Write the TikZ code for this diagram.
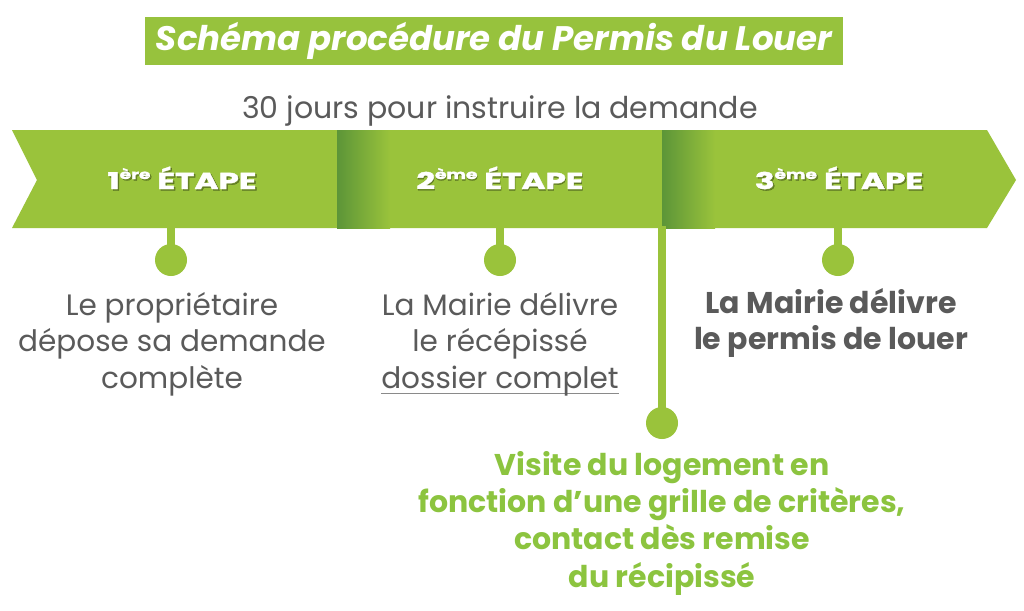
\documentclass[tikz,border=0pt]{standalone}
\usepackage{fontspec}
\setmainfont{Poppins}
\definecolor{bandgreen}{HTML}{9AC33B}
\definecolor{titlegreen}{HTML}{97C23D}
\definecolor{darkgreen}{HTML}{5C9538}
\definecolor{txtgreen}{HTML}{8CC43F}
\definecolor{txtgray}{HTML}{5A5A5A}
\definecolor{ulgray}{HTML}{8A8A8A}
\newcommand\ulline[1]{\leavevmode\setbox0=\hbox{#1}\rlap{\color{ulgray}\rule[-6pt]{\wd0}{1.2pt}}\box0}
\newcommand\stepsup[1]{\raisebox{10pt}{\fontsize{13}{13}\selectfont #1}}
\newcommand\steptext[2]{\scalebox{1.42}[1]{#1\stepsup{#2}\hspace{5pt}ÉTAPE}}
\tikzset{
  dot/.style={circle, fill=bandgreen, minimum size=32pt, inner sep=0pt},
  stem/.style={draw=bandgreen, line width=8pt},
  graytxt/.style={align=center, text=txtgray, inner sep=0pt, anchor=base,
    font=\fontsize{29.5}{36.5}\selectfont},
  boldtxt/.style={align=center, text=txtgray, inner sep=0pt, anchor=base,
    font=\fontsize{30}{36}\selectfont\bfseries},
  greentxt/.style={align=center, text=txtgreen, inner sep=0pt, anchor=base,
    font=\fontsize{30}{37.3}\selectfont\bfseries},
  steplbl/.style={text=white, inner sep=0pt, anchor=base,
    font=\fontsize{23}{28}\selectfont\bfseries\addfontfeature{FakeBold=1.6}},
  stepshadow/.style={text=black, opacity=0.3, inner sep=0pt, anchor=base,
    font=\fontsize{23}{28}\selectfont\bfseries\addfontfeature{FakeBold=1.6}}
}
\begin{document}
\begin{tikzpicture}[x=1pt,y=-1pt]
\useasboundingbox (0,0) rectangle (1024,610);
\fill[white] (0,0) rectangle (1024,610);
% title
\node[fill=titlegreen, minimum width=698pt, minimum height=48pt, inner sep=0pt,
  text=white, font=\fontsize{34}{38}\selectfont\bfseries\itshape] (title) at (494,41)
  {Schéma procédure du Permis du Louer};
\node[text=txtgray, inner sep=0pt, anchor=base, font=\fontsize{30}{34}\selectfont]
  (sub) at (500,118) {30 jours pour instruire la demande};
% band
\fill[bandgreen] (12,130) -- (987,130) -- (1016,180) -- (987,228) -- (12,228) -- (37,180) -- cycle;
\shade[left color=darkgreen, right color=bandgreen] (337,130) rectangle (390,228);
\shade[left color=darkgreen, right color=bandgreen] (662,130) rectangle (715,228);
% step labels
\node[stepshadow] at (183.5,190.5) {\steptext{1}{ère}};
\node[steplbl] (s1) at (182,189) {\steptext{1}{ère}};
\node[stepshadow] at (500.5,190.5) {\steptext{2}{ème}};
\node[steplbl] (s2) at (500,189) {\steptext{2}{ème}};
\node[stepshadow] at (840.5,190.5) {\steptext{3}{ème}};
\node[steplbl] (s3) at (839,189) {\steptext{3}{ème}};
% stems and dots
\coordinate (b1) at (171,226);
\coordinate (b2) at (500,226);
\coordinate (b3) at (838,226);
\coordinate (b4) at (662,226);
\node[dot] (d1) at (171,260) {};
\node[dot] (d2) at (500,260) {};
\node[dot] (d3) at (838,260) {};
\node[dot] (d4) at (662,423) {};
\draw[stem] (b1) -- (d1.center);
\draw[stem] (b2) -- (d2.center);
\draw[stem] (b3) -- (d3.center);
\draw[stem] (b4) -- (d4.center);
% texts
\node[graytxt] (t1) at (172,388) {Le propriétaire\\dépose sa demande\\complète};
\node[graytxt] (t2) at (500,388) {La Mairie délivre\\le récépissé\\\ulline{dossier complet}};
\node[boldtxt] (t3) at (831,349) {La Mairie délivre\\le permis de louer};
\node[greentxt] (t4) at (662,587) {Visite du logement en\\fonction d’une grille de critères,\\contact dès remise\\du récipissé};
\end{tikzpicture}
\end{document}
